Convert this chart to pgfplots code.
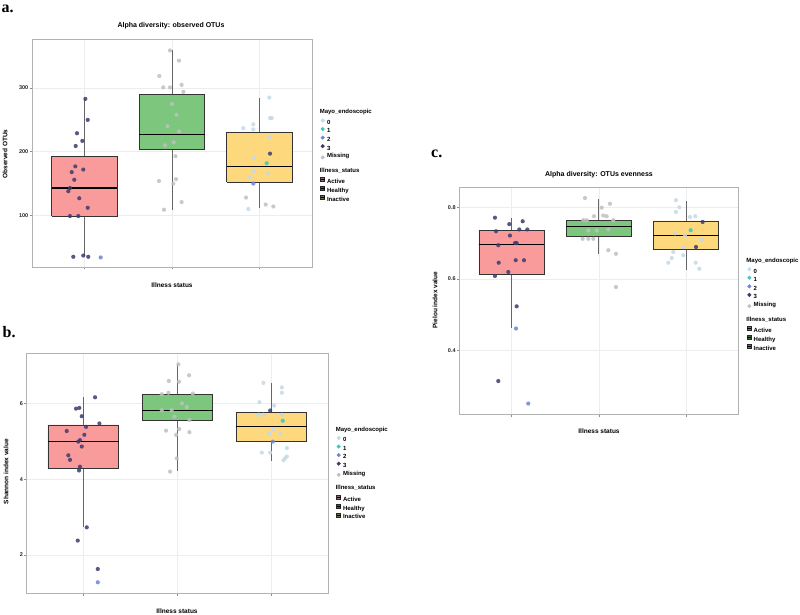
\documentclass[border=0pt]{standalone}
\usepackage{fontspec}
\setmainfont{Liberation Sans}
\newfontfamily\serifbf{Liberation Serif}
\usepackage{pgfplots}
\pgfplotsset{compat=1.18}

\definecolor{czero}{RGB}{196,218,232}
\definecolor{cone}{RGB}{60,200,190}
\definecolor{ctwo}{RGB}{110,132,215}
\definecolor{cthree}{RGB}{58,60,112}
\definecolor{cmiss}{RGB}{192,192,192}
\definecolor{boxred}{RGB}{250,155,155}
\definecolor{boxgreen}{RGB}{125,198,125}
\definecolor{boxyellow}{RGB}{253,216,125}

\pgfplotsset{
  panel/.style={
    scale only axis,
    xmin=0.4, xmax=3.6,
    xtick={1,2,3}, xticklabels={},
    tick pos=left,
    axis line style={draw=black!30, line width=0.9pt},
    grid=major, major grid style={draw=black!7, line width=0.5pt},
    tick style={draw=black!45, line width=0.5pt},
    tick align=outside, major tick length=2.5pt,
    ticklabel style={font=\fontsize{5.5}{6}\selectfont\bfseries, text=black!85},
    yticklabel style={inner sep=1pt},
    /pgf/number format/assume math mode=true,
    clip=false,
    legend cell align=left,
    legend style={draw=none, fill=none, inner sep=0pt, outer sep=0pt,
      font=\fontsize{6}{7}\selectfont\bfseries, row sep=0.9pt,
      nodes={inner sep=0.6pt, text height=4.5pt, text depth=1.2pt}},
  },
  pts/.style={forget plot, only marks, mark=*, mark size=2.1pt, color=#1,
    mark options={solid, draw=#1, fill=#1, draw opacity=0, fill opacity=0.85}},
  boxs/.style={forget plot, fill=#1, draw=black!80, line width=0.7pt, mark=none},
  whisk/.style={forget plot, draw=black!60, line width=0.8pt, mark=none},
  med/.style={forget plot, draw=black, line width=1.1pt, mark=none},
  mayokey/.style={legend image code/.code={\fill[#1] (2.5pt,2.2pt) circle (1.8pt); \path (0pt,0pt) (6pt,0pt);}},
  illkey/.style={legend image code/.code={\filldraw[fill=#1, draw=black!85, line width=0.8pt] (0.6pt,0.2pt) rectangle (4.6pt,4.2pt); \draw[black, line width=0.6pt] (0.6pt,2.2pt)--(4.6pt,2.2pt); \path (0pt,0pt) (6pt,0pt);}},
}

% \bx{left}{right}{centre}{lower whisker}{Q1}{median}{Q3}{upper whisker}{fill}
\newcommand{\bx}[9]{%
  \addplot[whisk] coordinates {(#3,#4) (#3,#5)};
  \addplot[whisk] coordinates {(#3,#7) (#3,#8)};
  \addplot[boxs=#9] coordinates {(#1,#5) (#2,#5) (#2,#7) (#1,#7) (#1,#5)};
  \addplot[med] coordinates {(#1,#6) (#2,#6)};
}

\newcommand{\mylegend}{%
  \addlegendimage{empty legend}\addlegendentry[text depth=3.4pt]{\hspace{-7.2pt}Mayo\_endoscopic}
  \addlegendimage{mayokey=czero}\addlegendentry{0}
  \addlegendimage{mayokey=cone}\addlegendentry{1}
  \addlegendimage{mayokey=ctwo}\addlegendentry{2}
  \addlegendimage{mayokey=cthree}\addlegendentry{3}
  \addlegendimage{mayokey=cmiss}\addlegendentry[text depth=8pt]{Missing}
  \addlegendimage{empty legend}\addlegendentry[text depth=3.4pt]{\hspace{-7.2pt}Illness\_status}
  \addlegendimage{illkey=boxred!65!black}\addlegendentry{Active}
  \addlegendimage{illkey=boxgreen!50!black}\addlegendentry{Healthy}
  \addlegendimage{illkey=boxyellow!50!black}\addlegendentry{Inactive}
}

\begin{document}
\begin{tikzpicture}
\fill[white] (0pt,0pt) rectangle (800pt,615pt);
\useasboundingbox (0pt,0pt) rectangle (800pt,615pt);

% ---------------- panel a ----------------
\begin{axis}[panel, at={(32pt,348pt)}, anchor=south west,
  width=280pt, height=228pt, ymin=19, ymax=377, ytick={100,200,300},
  legend style={at={(axis description cs:1.0286,0.695)}, anchor=north west}]
\bx{0.625}{1.375}{1}{36}{99}{143}{192}{283}{boxred}
\bx{1.625}{2.375}{2}{109}{204}{227}{290}{359}{boxgreen}
\bx{2.625}{3.375}{3}{112}{152}{177}{230}{285}{boxyellow}
% Active
\addplot[pts=cthree] coordinates {(1.01,283) (1.037,250) (0.914,229) (0.975,217) (0.899,209) (0.895,177) (0.986,172) (0.854,168) (0.883,156) (0.834,143) (0.815,138) (0.94,127) (1.037,112) (0.834,99) (0.929,99) (0.872,35) (0.986,37) (1.043,35)};
\addplot[pts=ctwo] coordinates {(1.185,34)};
% Healthy
\addplot[pts=cmiss] coordinates {(1.977,359) (2.08,343) (1.855,319) (1.90,301) (1.977,301) (2.11,305) (2.13,294) (2.0,275) (2.05,258) (1.95,240) (2.08,232) (2.02,215) (1.92,210) (2.04,193) (2.046,157) (1.851,154) (2.015,150) (2.11,121) (1.909,109)};
% Inactive
\addplot[pts=czero] coordinates {(3.112,285) (2.815,237) (2.929,243) (2.929,235) (3.12,253) (3.14,253) (3.112,223) (2.937,190) (3.10,166) (2.929,169) (2.891,160) (2.872,110)};
\addplot[pts=cthree] coordinates {(3.12,197)};
\addplot[pts=cone] coordinates {(3.082,182)};
\addplot[pts=ctwo] coordinates {(2.929,150)};
\addplot[pts=cmiss] coordinates {(2.846,128) (3.071,117) (3.158,114)};
\mylegend
\end{axis}

% ---------------- panel b ----------------
\begin{axis}[panel, at={(26.7pt,21.7pt)}, anchor=south west,
  width=301.3pt, height=240pt, ymin=0.99, ymax=7.32, ytick={2,4,6},
  legend style={at={(axis description cs:1.0266,0.697)}, anchor=north west}]
\bx{0.625}{1.375}{1}{2.73}{4.28}{4.99}{5.43}{6.16}{boxred}
\bx{1.625}{2.375}{2}{4.22}{5.56}{5.82}{6.24}{7.05}{boxgreen}
\bx{2.625}{3.375}{3}{4.49}{5.0}{5.39}{5.75}{6.54}{boxyellow}
% Active
\addplot[pts=cthree] coordinates {(1.126,6.16) (0.924,5.86) (0.959,5.88) (0.985,5.66) (1.172,5.47) (1.03,5.38) (0.825,5.27) (1.012,5.17) (0.966,5.03) (0.948,4.99) (0.985,4.86) (0.842,4.63) (0.86,4.51) (0.966,4.33) (0.956,4.23) (1.038,2.73) (0.942,2.38) (1.155,1.63)};
\addplot[pts=ctwo] coordinates {(1.155,1.28)};
% Healthy
\addplot[pts=cmiss] coordinates {(2.011,7.03) (2.125,6.74) (1.909,6.59) (2.018,6.57) (1.835,6.24) (1.905,6.28) (2.164,6.26) (2.05,6.0) (2.1,5.9) (1.835,5.82) (1.94,5.82) (1.97,5.65) (2.128,5.56) (1.88,5.28) (2.02,5.32) (1.987,5.17) (2.128,5.24) (1.994,4.55) (1.923,4.2)};
% Inactive
\addplot[pts=czero] coordinates {(2.914,6.54) (3.11,6.42) (3.11,6.28) (2.872,6.03) (3.028,5.94) (2.914,5.70) (2.86,5.70) (3.11,5.70) (3.017,5.30) (2.978,5.20) (3.092,5.20) (3.163,4.82) (2.897,4.70) (2.986,4.70) (3.163,4.60) (3.145,4.55) (3.127,4.50)};
\addplot[pts=cthree] coordinates {(2.986,5.81)};
\addplot[pts=cone] coordinates {(3.12,5.54)};
\addplot[pts=ctwo] coordinates {(3.014,4.99)};
\mylegend
\end{axis}

% ---------------- panel c ----------------
\begin{axis}[panel, at={(459.3pt,200.7pt)}, anchor=south west,
  width=279pt, height=227pt, ymin=0.221, ymax=0.856, ytick={0.4,0.6,0.8},
  legend style={at={(axis description cs:1.030,0.692)}, anchor=north west}]
\bx{0.625}{1.375}{1}{0.462}{0.613}{0.696}{0.735}{0.770}{boxred}
\bx{1.625}{2.375}{2}{0.670}{0.718}{0.746}{0.764}{0.824}{boxgreen}
\bx{2.625}{3.375}{3}{0.625}{0.683}{0.722}{0.762}{0.818}{boxyellow}
% Active
\addplot[pts=cthree] coordinates {(0.809,0.771) (1.127,0.761) (0.973,0.753) (0.821,0.733) (1.088,0.738) (1.18,0.738) (0.981,0.721) (1.039,0.70) (1.058,0.70) (0.847,0.694) (1.047,0.652) (1.142,0.652) (0.852,0.645) (0.962,0.619) (0.809,0.608) (1.058,0.523) (0.847,0.314)};
\addplot[pts=ctwo] coordinates {(1.05,0.461) (1.191,0.251)};
% Healthy
\addplot[pts=cmiss] coordinates {(1.842,0.826) (2.128,0.81) (2.033,0.799) (1.945,0.775) (2.051,0.777) (2.09,0.775) (1.822,0.764) (1.861,0.764) (2.166,0.764) (1.879,0.735) (1.976,0.735) (2.109,0.738) (1.815,0.712) (1.879,0.712) (1.937,0.712) (2.109,0.68) (2.197,0.67) (2.197,0.577)};
% Inactive
\addplot[pts=czero] coordinates {(2.885,0.82) (2.923,0.80) (2.885,0.787) (3.046,0.773) (3.106,0.775) (2.874,0.727) (2.988,0.722) (3.18,0.71) (2.969,0.689) (2.854,0.675) (2.969,0.666) (2.836,0.658) (2.797,0.645) (3.111,0.645) (3.152,0.628)};
\addplot[pts=cthree] coordinates {(3.191,0.759) (3.115,0.689)};
\addplot[pts=cone] coordinates {(3.054,0.736)};
\mylegend
\end{axis}

% ---------------- texts ----------------
\begin{scope}[every node/.style={inner sep=0pt}]
\node[anchor=base west, font=\serifbf\bfseries\fontsize{16}{18}\selectfont] at (1.5pt,602pt) {a.};
\node[anchor=base west, font=\serifbf\bfseries\fontsize{16}{18}\selectfont] at (2.5pt,277.7pt) {b.};
\node[anchor=base west, font=\serifbf\bfseries\fontsize{16}{18}\selectfont] at (431pt,457pt) {c.};
\node[font=\fontsize{7}{8}\selectfont\bfseries] at (171pt,589pt) {Alpha diversity: observed OTUs};
\node[font=\fontsize{7}{8}\selectfont\bfseries] at (599pt,440pt) {Alpha diversity: OTUs evenness};
\node[font=\fontsize{6.5}{8}\selectfont\bfseries] at (172pt,330pt) {Illness status};
\node[font=\fontsize{6.5}{8}\selectfont\bfseries] at (177pt,3.6pt) {Illness status};
\node[font=\fontsize{6.5}{8}\selectfont\bfseries] at (599pt,184pt) {Illness status};
\node[font=\fontsize{6.5}{8}\selectfont\bfseries, rotate=90] at (5pt,461pt) {Observed OTUs};
\node[font=\fontsize{6.5}{8}\selectfont\bfseries, rotate=90] at (6pt,143.3pt) {Shannon index value};
\node[font=\fontsize{6.5}{8}\selectfont\bfseries, rotate=90] at (435pt,315pt) {Pielou index value};
\end{scope}
\end{tikzpicture}
\end{document}
